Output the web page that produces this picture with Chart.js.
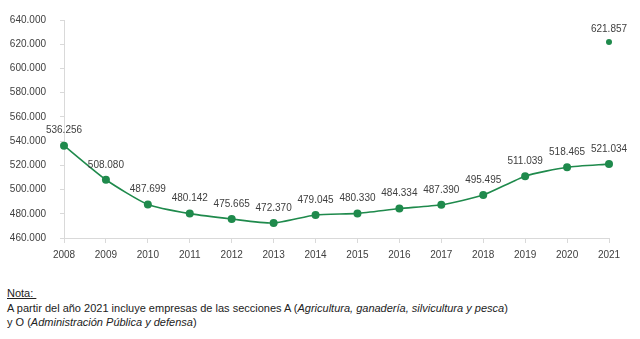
<!DOCTYPE html>
<html>
<head>
<meta charset="utf-8">
<script src="https://cdn.jsdelivr.net/npm/chart.js@4.4.1/dist/chart.umd.min.js"></script>
<style>
  body { margin: 0; background: #fff; width: 640px; height: 339px; overflow: hidden; font-family: "Liberation Sans", Arial, sans-serif; }
  .chart_box { position: relative; width: 640px; height: 267px; }
  .nota { position: absolute; left: 7px; top: 286px; font-size: 11px; line-height: 14.5px; color: #222; white-space: nowrap; }
</style>
</head>
<body>
<div class="chart_box"><canvas id="empresas_chart"></canvas></div>
<div class="nota"><u>Nota:&nbsp;</u><br>A partir del año 2021 incluye empresas de las secciones A (<i>Agricultura, ganadería, silvicultura y pesca</i>)<br>y O (<i>Administración Pública y defensa</i>)</div>
<script>
const years = ['2008', '2009', '2010', '2011', '2012', '2013', '2014', '2015', '2016', '2017', '2018', '2019', '2020', '2021'];
const empresas = [536256, 508080, 487699, 480142, 475665, 472370, 479045, 480330, 484334, 487390, 495495, 511039, 518465, 521034];
// 2021 con las secciones A y O incluidas (punto suelto)
const empresasAmpliado = [null, null, null, null, null, null, null, null, null, null, null, null, null, 621857];
const yMin = 460000;
const yMax = 640000;
const yStep = 20000;

const green = '#1f8a4c';
const textColor = '#404040';
const axisColor = '#d9d9d9';

let puntos = (n) => n.toString().replace(/\B(?=(\d{3})+(?!\d))/g, '.'); // 536256 -> 536.256

// etiquetas encima de cada punto
const valueLabels = {
    id: 'valueLabels',
    afterDatasetsDraw(chart) {
        const ctx = chart.ctx;
        ctx.save();
        ctx.font = '10px "Liberation Sans", Arial, sans-serif';
        ctx.fillStyle = textColor;
        ctx.textAlign = 'center';
        ctx.textBaseline = 'middle';
        chart.data.datasets.forEach((ds, i) => {
            chart.getDatasetMeta(i).data.forEach((pt, j) => {
                if (ds.data[j] == null) return;
                ctx.fillText(puntos(ds.data[j]), pt.x, pt.y - ds.labelGap);
            });
        });
        ctx.restore();
    }
};

Chart.defaults.font.family = '"Liberation Sans", Arial, sans-serif';
Chart.defaults.font.size = 10;
Chart.defaults.color = textColor;

new Chart(document.getElementById('empresas_chart'), {
    type: 'line',
    data: {
        labels: years,
        datasets: [{
            data: empresas,
            borderColor: green,
            backgroundColor: green,
            borderWidth: 1.6,
            pointRadius: 4,
            pointBorderWidth: 0,
            tension: 0.2,
            labelGap: 15
        }, {
            data: empresasAmpliado,
            showLine: false,
            borderColor: green,
            backgroundColor: green,
            pointRadius: 3,
            pointBorderWidth: 0,
            labelGap: 13
        }]
    },
    options: {
        responsive: true,
        maintainAspectRatio: false,
        devicePixelRatio: 1,
        animation: false,
        layout: { padding: { left: 10, right: 31, top: 11, bottom: 0 } },
        plugins: { legend: { display: false }, tooltip: { enabled: false } },
        scales: {
            x: {
                offset: false,
                grid: { drawOnChartArea: false, tickLength: 5, color: axisColor },
                border: { color: axisColor },
                ticks: { padding: 6, maxRotation: 0 }
            },
            y: {
                min: yMin,
                max: yMax,
                grid: { drawOnChartArea: false, tickLength: 4, color: axisColor },
                border: { color: axisColor },
                ticks: { stepSize: yStep, padding: 14, callback: (v) => puntos(v) },
                afterFit: (scale) => { scale.width = 54; }
            }
        }
    },
    plugins: [valueLabels]
});
</script>
</body>
</html>
